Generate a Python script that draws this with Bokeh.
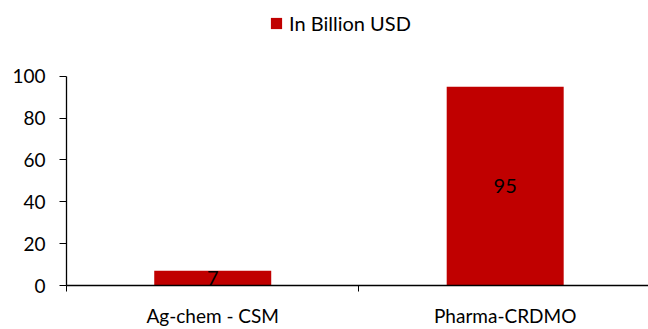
from bokeh.plotting import figure
from bokeh.models import Range1d, FixedTicker, Legend, LegendItem, ColumnDataSource, LabelSet
from bokeh.core.properties import value
from bokeh.embed import file_html
from bokeh.resources import INLINE

categories = ["Ag-chem - CSM", "Pharma-CRDMO"]
values = [7, 95]
series_name = "In Billion USD"
y_ticks = [0, 20, 40, 60, 80, 100]

FONT = "Lato"
FS = "19px"
RED = "#C00000"

xpos = [i + 0.5 for i in range(len(categories))]
src = ColumnDataSource(dict(
    x=xpos,
    top=values,
    mid=[v / 2 for v in values],
    label=[str(v) for v in values],
))

# frame spans full height above the x axis; y axis line limited to 0..100 via bounds
p = figure(width=648, height=329, output_backend="svg", toolbar_location=None,
           x_range=Range1d(0, 1.99), y_range=Range1d(0, 136.2),
           min_border_left=66, min_border_right=0, min_border_top=0, min_border_bottom=43)
p.outline_line_color = None
p.xgrid.visible = False
p.ygrid.visible = False
p.background_fill_color = "white"
p.border_fill_color = "white"

r = p.vbar(x="x", top="top", width=0.4, source=src, fill_color=RED, line_color=None)

labels = LabelSet(x="x", y="mid", text="label", source=src, text_align="center",
                  text_baseline="middle", text_font=value(FONT), text_font_size=value("20px"),
                  text_color="black")
p.add_layout(labels)

# x axis
xa = p.xaxis[0]
xa.ticker = FixedTicker(ticks=xpos, minor_ticks=list(range(len(categories) + 1)))
xa.major_label_overrides = {x: c for x, c in zip(xpos, categories)}
xa.major_tick_line_color = None
xa.minor_tick_line_color = "black"
xa.minor_tick_out = 6
xa.minor_tick_in = 0
xa.axis_line_color = "black"
xa.axis_line_width = 1.3
xa.major_label_text_font = FONT
xa.major_label_text_font_size = FS
xa.major_label_text_color = "black"
xa.major_label_standoff = 12

# y axis
ya = p.yaxis[0]
ya.ticker = FixedTicker(ticks=y_ticks)
ya.bounds = (y_ticks[0], y_ticks[-1])
ya.major_tick_out = 7
ya.major_tick_in = 0
ya.minor_tick_line_color = None
ya.major_tick_line_color = "black"
ya.axis_line_color = "black"
ya.axis_line_width = 1.3
ya.major_label_text_font = FONT
ya.major_label_text_font_size = FS
ya.major_label_text_color = "black"
ya.major_label_standoff = 14

legend = Legend(items=[LegendItem(label=series_name, renderers=[r])],
                location=(203, 250), orientation="horizontal",
                border_line_color=None, background_fill_alpha=0,
                glyph_width=14, glyph_height=14, label_standoff=6,
                padding=0, margin=0, spacing=0,
                label_text_font=FONT, label_text_font_size="20px", label_text_color="black")
p.add_layout(legend, "center")

open("out.html", "w").write(file_html(p, INLINE))
